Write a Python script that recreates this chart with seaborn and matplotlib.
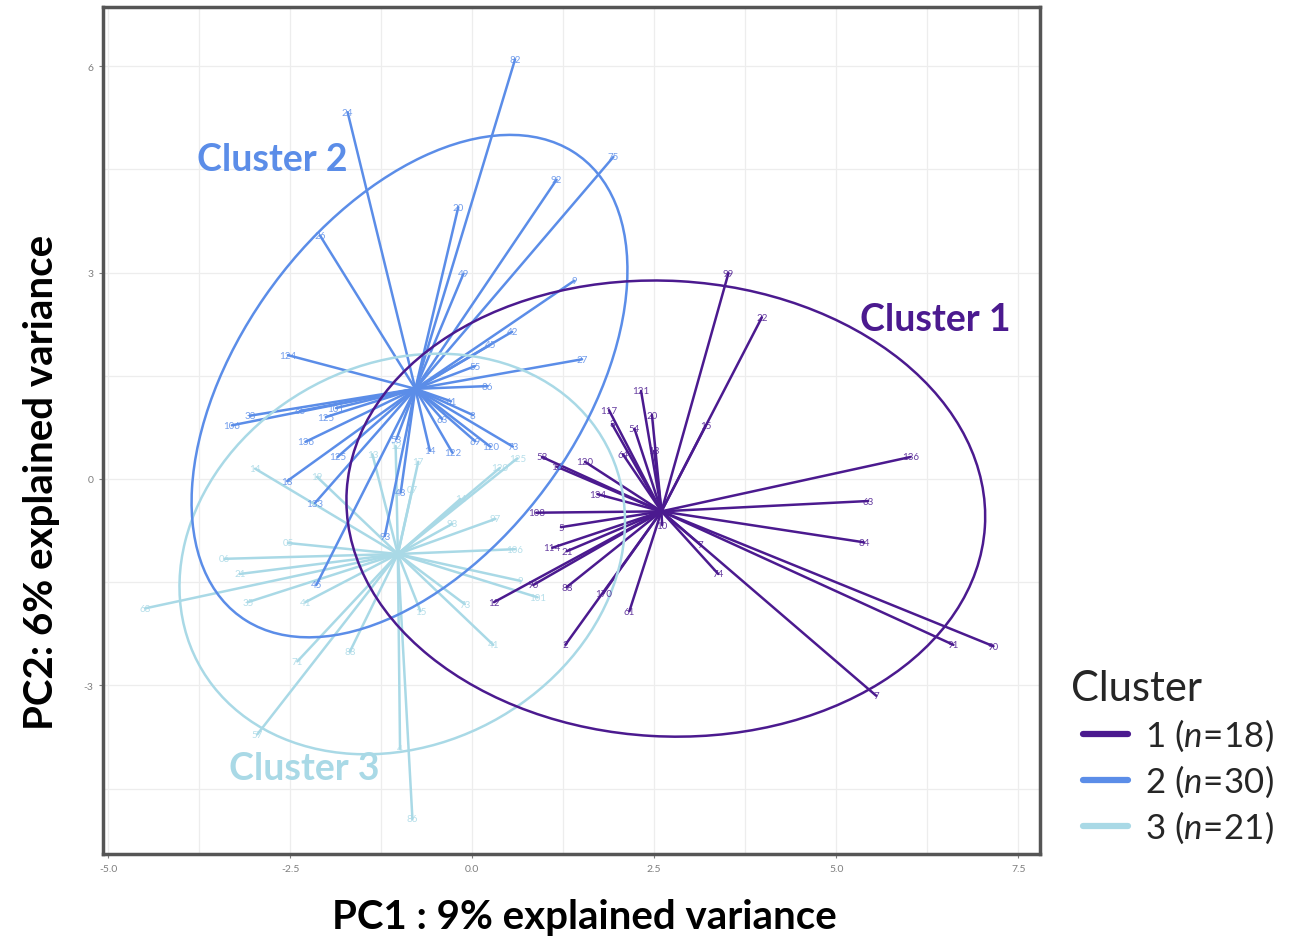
import numpy as np
import pandas as pd
import matplotlib
matplotlib.use("Agg")
import matplotlib.pyplot as plt
from matplotlib.patches import Ellipse
from matplotlib.lines import Line2D
import seaborn as sns

# ---------------- data ----------------
cluster_names = ["1", "2", "3"]
cluster_n = [18, 30, 21]
cluster_colors = ["#4B1A8F", "#5B8DE8", "#A9D9E6"]

centroid_x = [2.60, -0.78, -1.02]
centroid_y = [-0.47, 1.31, -1.09]

c1_labels = ["99", "22", "121", "117", "3", "54", "20", "13", "64", "15", "58", "16",
             "120", "136", "134", "63", "108", "5", "114", "21", "84", "7", "74", "96",
             "88", "170", "12", "61", "2", "91", "90", "7", "10"]
c1_x = [3.52, 3.98, 2.32, 1.88, 1.92, 2.23, 2.47, 2.50, 2.07, 3.21, 0.96, 1.16,
        1.55, 6.02, 1.72, 5.44, 0.88, 1.22, 1.10, 1.30, 5.38, 3.13, 3.38, 0.84,
        1.30, 1.80, 0.30, 2.16, 1.28, 6.61, 7.16, 5.55, 2.61]
c1_y = [2.99, 2.35, 1.28, 1.00, 0.80, 0.73, 0.93, 0.41, 0.36, 0.78, 0.32, 0.18,
        0.25, 0.32, -0.22, -0.32, -0.49, -0.70, -1.00, -1.05, -0.92, -0.95, -1.38, -1.54,
        -1.57, -1.66, -1.79, -1.92, -2.41, -2.41, -2.43, -3.15, -0.67]

c2_labels = ["82", "24", "75", "92", "26", "20", "49", "9", "42", "45", "27", "55",
             "86", "124", "106", "38", "65", "101", "125", "61", "63", "8", "136", "69",
             "120", "73", "14", "122", "125", "18", "133", "45", "93", "48", "53"]
c2_x = [0.59, -1.71, 1.94, 1.16, -2.09, -0.19, -0.12, 1.40, 0.55, 0.25, 1.51, 0.04,
        0.21, -2.53, -3.30, -3.05, -2.36, -1.87, -2.01, -0.29, -0.41, 0.01, -2.29, 0.04,
        0.25, 0.56, -0.58, -0.27, -1.85, -2.54, -2.16, -2.14, -1.20, -0.98, -1.04]
c2_y = [6.10, 5.33, 4.68, 4.35, 3.54, 3.95, 2.98, 2.88, 2.14, 1.95, 1.74, 1.64,
        1.35, 1.80, 0.78, 0.92, 0.99, 1.03, 0.90, 1.13, 0.87, 0.93, 0.54, 0.55,
        0.47, 0.47, 0.41, 0.38, 0.32, -0.03, -0.35, -1.54, -0.83, -0.19, 0.58]

c3_labels = ["68", "21", "06", "05", "14", "19", "35", "41", "71", "57", "88", "4",
             "86", "41", "15", "73", "101", "9", "106", "97", "93", "14", "120", "125",
             "17", "07", "13", "12"]
c3_x = [-4.49, -3.19, -3.40, -2.53, -2.98, -2.13, -3.08, -2.29, -2.40, -2.95, -1.68, -0.99,
        -0.82, 0.29, -0.71, -0.10, 0.90, 0.66, 0.59, 0.32, -0.27, -0.16, 0.38, 0.62,
        -0.74, -0.82, -1.37, -1.05]
c3_y = [-1.88, -1.38, -1.16, -0.93, 0.15, 0.03, -1.79, -1.79, -2.65, -3.71, -2.51, -3.92,
        -4.94, -2.41, -1.92, -1.82, -1.72, -1.48, -1.02, -0.58, -0.65, -0.29, 0.16, 0.30,
        0.25, -0.15, 0.36, 0.48]

# ellipse (centre x, centre y, width, height, angle) per cluster
ell_cx = [2.66, -0.86, -0.96]
ell_cy = [-0.43, 1.35, -1.09]
ell_w = [8.78, 8.16, 6.46]
ell_h = [6.62, 4.75, 5.44]
ell_angle = [-3.5, 56.7, 36.5]

cluster_label_text = ["Cluster 1", "Cluster 2", "Cluster 3"]
cluster_label_x = [6.36, -2.74, -2.30]
cluster_label_y = [2.33, 4.65, -4.20]

x_ticks = [-5.0, -2.5, 0.0, 2.5, 5.0, 7.5]
y_ticks = [-3, 0, 3, 6]
x_label = "PC1 : 9% explained variance"
y_label = "PC2: 6% explained variance"
legend_title = "Cluster"

# ---------------- build segment table ----------------
pts_x = [c1_x, c2_x, c3_x]
pts_y = [c1_y, c2_y, c3_y]
pts_lab = [c1_labels, c2_labels, c3_labels]
rows = []
seg = 0
for ci, name in enumerate(cluster_names):
    for px, py in zip(pts_x[ci], pts_y[ci]):
        rows.append(dict(seg=seg, cluster=name, x=centroid_x[ci], y=centroid_y[ci]))
        rows.append(dict(seg=seg, cluster=name, x=px, y=py))
        seg += 1
df = pd.DataFrame(rows)

# ---------------- plot ----------------
sns.set_theme(style="white")
plt.rcParams["font.family"] = ["Lato", "DejaVu Sans"]
plt.rcParams["mathtext.fontset"] = "custom"
plt.rcParams["mathtext.rm"] = "Lato"
plt.rcParams["mathtext.it"] = "Lato:italic"

fig = plt.figure(figsize=(12.92, 9.37), dpi=100)
ax = fig.add_axes([0.0797, 0.0875, 0.7253, 0.904])

palette = dict(zip(cluster_names, cluster_colors))
order = ["3", "2", "1"]
for name in order:
    sub = df[df.cluster == name]
    sns.lineplot(data=sub, x="x", y="y", units="seg", estimator=None, sort=False,
                 color=palette[name], lw=1.8, ax=ax, legend=False)

for ci in [2, 1, 0]:
    e = Ellipse((ell_cx[ci], ell_cy[ci]), ell_w[ci], ell_h[ci], angle=ell_angle[ci],
                fill=False, edgecolor=cluster_colors[ci], lw=1.8, zorder=3)
    ax.add_patch(e)

for ci in range(3):
    for px, py, lab in zip(pts_x[ci], pts_y[ci], pts_lab[ci]):
        ax.text(px, py, lab, color=cluster_colors[ci], fontsize=7,
                ha="center", va="center", alpha=0.85, zorder=4)
    ax.text(cluster_label_x[ci], cluster_label_y[ci], cluster_label_text[ci],
            color=cluster_colors[ci], fontsize=27, fontweight="bold",
            ha="center", va="center", zorder=5)

ax.set_xlim(-5.07, 7.8)
ax.set_ylim(-5.45, 6.86)
ax.set_xticks(x_ticks)
ax.set_xticklabels([f"{t:.1f}" for t in x_ticks])
ax.set_yticks(y_ticks)
ax.set_yticklabels([str(t) for t in y_ticks])
ax.set_xticks(np.arange(-5.0, 7.8, 1.25), minor=True)
ax.set_yticks(np.arange(-4.5, 6.9, 1.5), minor=True)
ax.grid(True, which="both", color="#EDEDED", lw=0.9)
ax.set_axisbelow(True)
ax.tick_params(axis="both", which="major", labelsize=7.5, colors="#7F7F7F",
               length=3, width=0.8, direction="out", pad=4, bottom=True, left=True)
ax.tick_params(axis="both", which="minor", length=0)
for s in ax.spines.values():
    s.set_color("#555555")
    s.set_linewidth(2.5)

ax.set_xlabel(x_label, fontsize=29, fontweight="bold", color="black")
ax.set_ylabel(y_label, fontsize=29, fontweight="bold", color="black")
ax.xaxis.set_label_coords(0.514, -0.052)
ax.yaxis.set_label_coords(-0.046, 0.44)

handles = [Line2D([0], [0], color=c, lw=4.5) for c in cluster_colors]
labels = [f"{n} $\\it{{(n\\!=\\!{k})}}$" for n, k in zip(cluster_names, cluster_n)]
leg = fig.legend(handles, labels, title=legend_title, loc="upper left",
                 bbox_to_anchor=(0.838, 0.285), frameon=False, fontsize=25,
                 title_fontsize=30, handlelength=1.3, handletextpad=0.5,
                 labelspacing=0.28, alignment="left", borderaxespad=0, borderpad=0)
leg.get_title().set_position((-12, 0))

fig.savefig("out.png", dpi=100)
